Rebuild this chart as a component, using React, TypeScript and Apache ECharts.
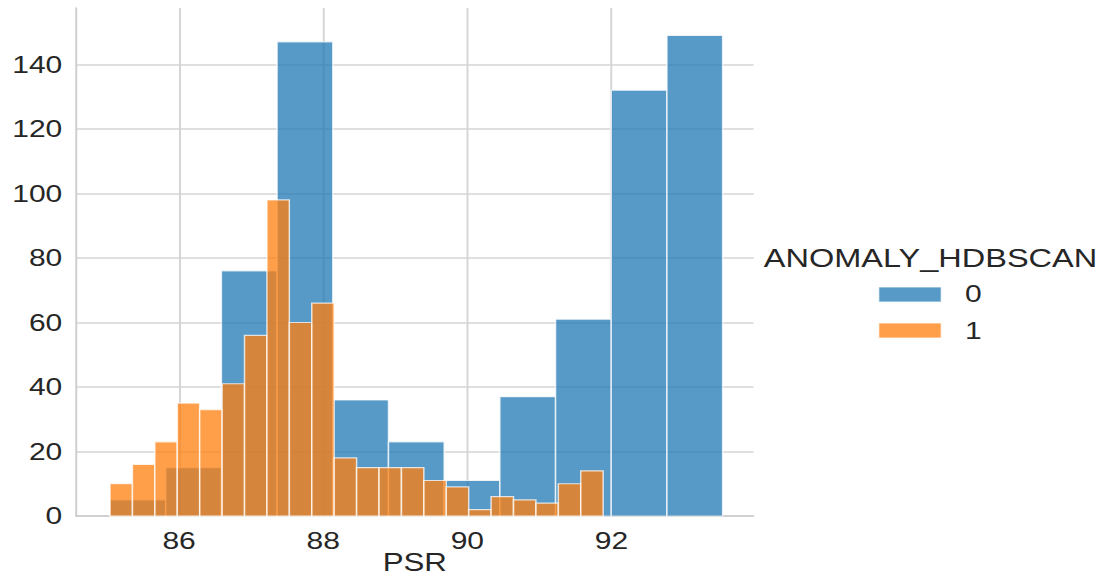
import React, { useEffect, useRef } from "react";
import * as echarts from "echarts";

// PSR histogram split by ANOMALY_HDBSCAN level
const psrMin = 85.042;
const binWidth0 = 0.7727;
const binWidth1 = 0.311;
const counts0 = [5, 15, 76, 147, 36, 23, 11, 37, 61, 132, 149];
const counts1 = [10, 16, 23, 35, 33, 41, 56, 98, 60, 66, 18, 15, 15, 15, 11, 9, 2, 6, 5, 4, 10, 14];
const hueLevels = ["0", "1"];
const xTicks = [86, 88, 90, 92];
const yTicks = [0, 20, 40, 60, 80, 100, 120, 140];

const FIG_W = 1102;
const FIG_H = 581;
const SX = 1.25; // the figure is drawn narrow and widened horizontally
const W = FIG_W / SX;

const FONT = "'Liberation Sans', Arial, sans-serif";
const TEXT = "#262626";
const GRID = "#d4d4d4";
const BLUE = "rgb(31,119,180)";
const ORANGE = "rgb(255,127,14)";

const toBins = (counts: number[], width: number) =>
  counts.map((c, i) => [psrMin + i * width, psrMin + (i + 1) * width, c]);

const histSeries = (name: string, counts: number[], width: number, color: string) => ({
  type: "custom" as const,
  name,
  data: toBins(counts, width),
  encode: { x: [0, 1], y: 2 },
  renderItem: (_params: any, api: any) => {
    const p0 = api.coord([api.value(0), api.value(2)]);
    const p1 = api.coord([api.value(1), 0]);
    return {
      type: "rect",
      shape: { x: p0[0], y: p0[1], width: p1[0] - p0[0], height: p1[1] - p0[1] },
      style: { fill: color, stroke: "#ffffff", lineWidth: 1.2, opacity: 0.75 },
    };
  },
});

export default function App() {
  const ref = useRef<HTMLDivElement>(null);

  useEffect(() => {
    if (!ref.current) return;
    const chart = echarts.init(ref.current, null, { renderer: "svg" });
    const gridLeft = 76 / SX;
    const gridRight = W - 753 / SX;

    chart.setOption({
      animation: false,
      backgroundColor: "#ffffff",
      textStyle: { fontFamily: FONT },
      grid: {
        left: gridLeft,
        right: gridRight,
        top: 8,
        bottom: FIG_H - 516,
        containLabel: false,
        outerBoundsMode: "none",
      },
      xAxis: {
        type: "value",
        min: 84.57,
        max: 93.97,
        name: "PSR",
        nameLocation: "middle",
        nameGap: 34,
        nameMoveOverlap: false,
        nameTextStyle: { fontSize: 25, color: TEXT, fontFamily: FONT },
        axisLine: { show: true, lineStyle: { color: "#cccccc", width: 1.5 } },
        axisTick: { show: false, customValues: xTicks },
        axisLabel: { customValues: xTicks, fontSize: 24, color: TEXT, margin: 13, fontFamily: FONT },
        splitLine: { show: true, lineStyle: { color: GRID, width: 1.5 } },
      },
      yAxis: {
        type: "value",
        min: 0,
        max: 157.5,
        axisLine: { show: true, lineStyle: { color: "#cccccc", width: 1.5 } },
        axisTick: { show: false, customValues: yTicks },
        axisLabel: { customValues: yTicks, fontSize: 24, color: TEXT, margin: 11, fontFamily: FONT },
        splitLine: { show: true, lineStyle: { color: GRID, width: 1.5 } },
      },
      series: [
        histSeries(hueLevels[0], counts0, binWidth0, BLUE),
        histSeries(hueLevels[1], counts1, binWidth1, ORANGE),
      ],
      graphic: [
        {
          type: "text",
          left: 611,
          top: 258 - 13.5,
          style: { text: "ANOMALY_HDBSCAN", fontSize: 26, fill: TEXT, fontFamily: FONT },
        },
        {
          type: "rect",
          shape: { x: 703, y: 287, width: 50, height: 15 },
          style: { fill: BLUE, opacity: 0.75, stroke: "#ffffff", lineWidth: 1 },
        },
        {
          type: "text",
          left: 772,
          top: 294 - 12.5,
          style: { text: hueLevels[0], fontSize: 24, fill: TEXT, fontFamily: FONT },
        },
        {
          type: "rect",
          shape: { x: 703, y: 323, width: 50, height: 15 },
          style: { fill: ORANGE, opacity: 0.75, stroke: "#ffffff", lineWidth: 1 },
        },
        {
          type: "text",
          left: 772,
          top: 331 - 12.5,
          style: { text: hueLevels[1], fontSize: 24, fill: TEXT, fontFamily: FONT },
        },
      ],
    });

    return () => chart.dispose();
  }, []);

  return (
    <div
      style={{
        position: "fixed",
        left: 0,
        top: 0,
        width: FIG_W,
        height: FIG_H,
        overflow: "hidden",
        background: "#ffffff",
      }}
    >
      <div
        ref={ref}
        style={{
          width: W,
          height: FIG_H,
          transform: `scaleX(${SX})`,
          transformOrigin: "0 0",
        }}
      />
    </div>
  );
}
